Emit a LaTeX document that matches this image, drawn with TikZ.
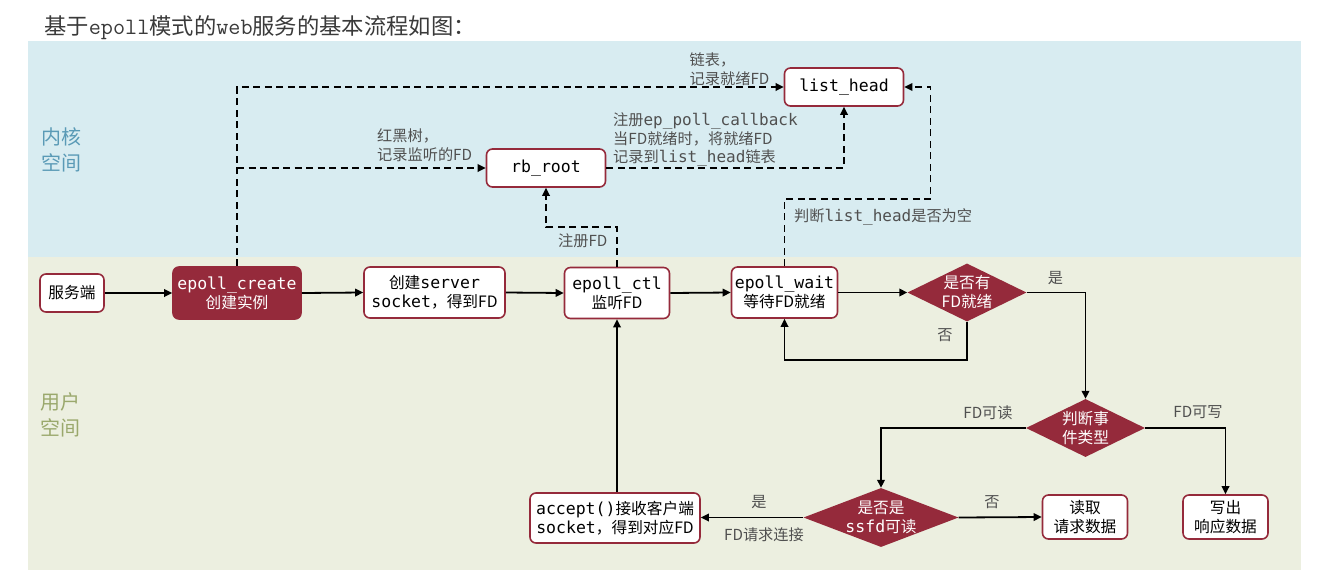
\documentclass[tikz,border=0pt]{standalone}
\usepackage{fontspec}
\setmainfont{DejaVu Sans Mono}
\newfontfamily\zhfont[Scale=0.95]{Noto Sans CJK SC}
\newcommand\zh[1]{{\zhfont #1}}
\newcommand\myNodeFont{\fontsize{16.5}{19}\selectfont}
\newcommand\myLabelFont{\fontsize{16}{18.5}\selectfont}
\newcommand\myRegionFont{\fontsize{21}{26}\selectfont\zhfont}
\newcommand\myTitleFont{\fontsize{23.5}{26}\selectfont}
\usetikzlibrary{arrows.meta,shapes.geometric,calc}
\definecolor{kbg}{HTML}{D8ECF1}
\definecolor{ubg}{HTML}{ECEFE0}
\definecolor{dred}{HTML}{952A3B}
\definecolor{gtext}{HTML}{505050}
\definecolor{kcol}{HTML}{5A9AB6}
\definecolor{ucol}{HTML}{9AA86C}
\definecolor{ttl}{HTML}{3A3A3A}
\begin{document}
\begin{tikzpicture}[x=1pt,y=-1pt,
  box/.style={draw=dred, line width=1.6pt, fill=white, rounded corners=6pt,
    inner sep=2pt, align=center, font=\myNodeFont, text=black},
  fbox/.style={box, fill=dred, text=white},
  dia/.style={diamond, fill=dred, draw=none, inner sep=0pt},
  dtext/.style={text=white, align=center, font=\myNodeFont, inner sep=0pt},
  glabel/.style={text=gtext, align=left, font=\myLabelFont, inner sep=0pt, anchor=west},
  clabel/.style={text=gtext, font=\myLabelFont, inner sep=0pt},
  flow/.style={line width=1.8pt, -{Triangle[length=8pt,width=7.5pt]}},
  dflow/.style={flow, dash pattern=on 7pt off 4.5pt}]
\useasboundingbox (0,0) rectangle (1327,570);
\fill[kbg] (28,41) rectangle (1301,257);
\fill[ubg] (28,257) rectangle (1301,570);

\node[anchor=west, text=ttl, font=\myTitleFont, inner sep=0pt] (title) at (44,28)
  {\zh{基于}{\ttfamily epoll}\zh{模式的}{\ttfamily web}\zh{服务的基本流程如图：}};

\node[anchor=west, align=left, text=kcol, font=\myRegionFont, inner sep=0pt] (kern) at (41,150) {内核\\空间};
\node[anchor=west, align=left, text=ucol, font=\myRegionFont, inner sep=0pt] (user) at (40,415) {用户\\空间};

% nodes
\node[box, minimum width=64pt, minimum height=38pt] (srv) at (72,293) {\zh{服务端}};
\node[fbox, minimum width=128pt, minimum height=52pt] (create) at (237,293) {epoll\_create\\\zh{创建实例}};
\node[box, minimum width=141pt, minimum height=51pt] (sock) at (434.5,292.5) {\zh{创建}server\\socket\zh{，得到FD}};
\node[box, minimum width=105pt, minimum height=51pt] (ctl) at (617,293) {epoll\_ctl\\\zh{监听FD}};
\node[box, minimum width=106pt, minimum height=51pt] (wait) at (784.5,292.5) {epoll\_wait\\\zh{等待FD就绪}};
\node[dia, minimum width=119pt, minimum height=58pt] (d1) at (967,292.5) {};
\node[dtext] (d1t) at (d1) {\zh{是否有}\\\zh{FD就绪}};
\node[dia, minimum width=119pt, minimum height=58pt] (d2) at (1085.5,428) {};
\node[dtext] (d2t) at (d2) {\zh{判断事}\\\zh{件类型}};
\node[dia, minimum width=155pt, minimum height=59pt] (d3) at (881,517.5) {};
\node[dtext] (d3t) at (d3) {\zh{是否是}\\ssfd\zh{可读}};
\node[box, minimum width=170pt, minimum height=50pt] (accept) at (615,518) {accept()\zh{接收客户端}\\socket\zh{，得到对应FD}};
\node[box, minimum width=85pt, minimum height=44pt] (read) at (1085,517) {\zh{读取}\\\zh{请求数据}};
\node[box, minimum width=85pt, minimum height=44pt] (write) at (1225.5,517) {\zh{写出}\\\zh{响应数据}};
\node[box, minimum width=119pt, minimum height=38pt] (rb) at (546,168) {rb\_root};
\node[box, minimum width=119pt, minimum height=38pt] (lh) at (844,87) {list\_head};

% solid connectors
\draw[flow] (srv.east) -- (create.west);
\draw[flow] (create.east) -- (sock.west);
\draw[flow] (sock.east) -- (ctl.west);
\draw[flow] (ctl.east) -- (wait.west);
\draw[flow] (wait.east) -- (d1.west);
\draw[flow] (d1.south) -- ++(0,38.5) -| (wait.south);
\draw[flow] (d1.east) -| (d2.north);
\draw[flow] (d2.west) -| (d3.north);
\draw[flow] (d2.east) -| (write.north);
\draw[flow] (d3.west) -- (d3.west -| accept.east);
\draw[flow] (d3.east) -- (read.west);
\draw[flow] (ctl.south |- accept.north) -- (ctl.south);

% dashed connectors
\draw[dflow] (create.north) |- (lh.west);
\draw[dflow] (create.north |- rb.west) -- (rb.west);
\coordinate (j1) at ($(ctl.north)+(0,-39.5)$);
\draw[dflow] (ctl.north) -- (j1) -| (rb.south);
\draw[dflow] (rb.east) -| (lh.south);
\coordinate (j2) at (930.5,199);
\draw[dflow] (wait.north) |- (j2) |- (lh.east);

% labels
\node[glabel] (l1) at (377,145) {\zh{红黑树，}\\\zh{记录监听的FD}};
\node[glabel] (l2) at (689.5,69) {\zh{链表，}\\\zh{记录就绪FD}};
\node[glabel] (l3) at (613,139.5) {\zh{注册}ep\_poll\_callback\\\zh{当FD就绪时，将就绪FD}\\\zh{记录到}list\_head\zh{链表}};
\node[glabel] (l4) at (794,217) {\zh{判断}list\_head\zh{是否为空}};
\node[glabel] (l5) at (558,241) {\zh{注册FD}};
\node[clabel] (y1) at (1055.5,278) {\zh{是}};
\node[clabel] (n1) at (945,335) {\zh{否}};
\node[clabel] (r1) at (988,413) {\zh{FD可读}};
\node[clabel] (w1) at (1198,412) {\zh{FD可写}};
\node[clabel] (y3) at (759,502) {\zh{是}};
\node[clabel] (c3) at (764,535) {\zh{FD请求连接}};
\node[clabel] (n3) at (992,502) {\zh{否}};
\end{tikzpicture}
\end{document}
